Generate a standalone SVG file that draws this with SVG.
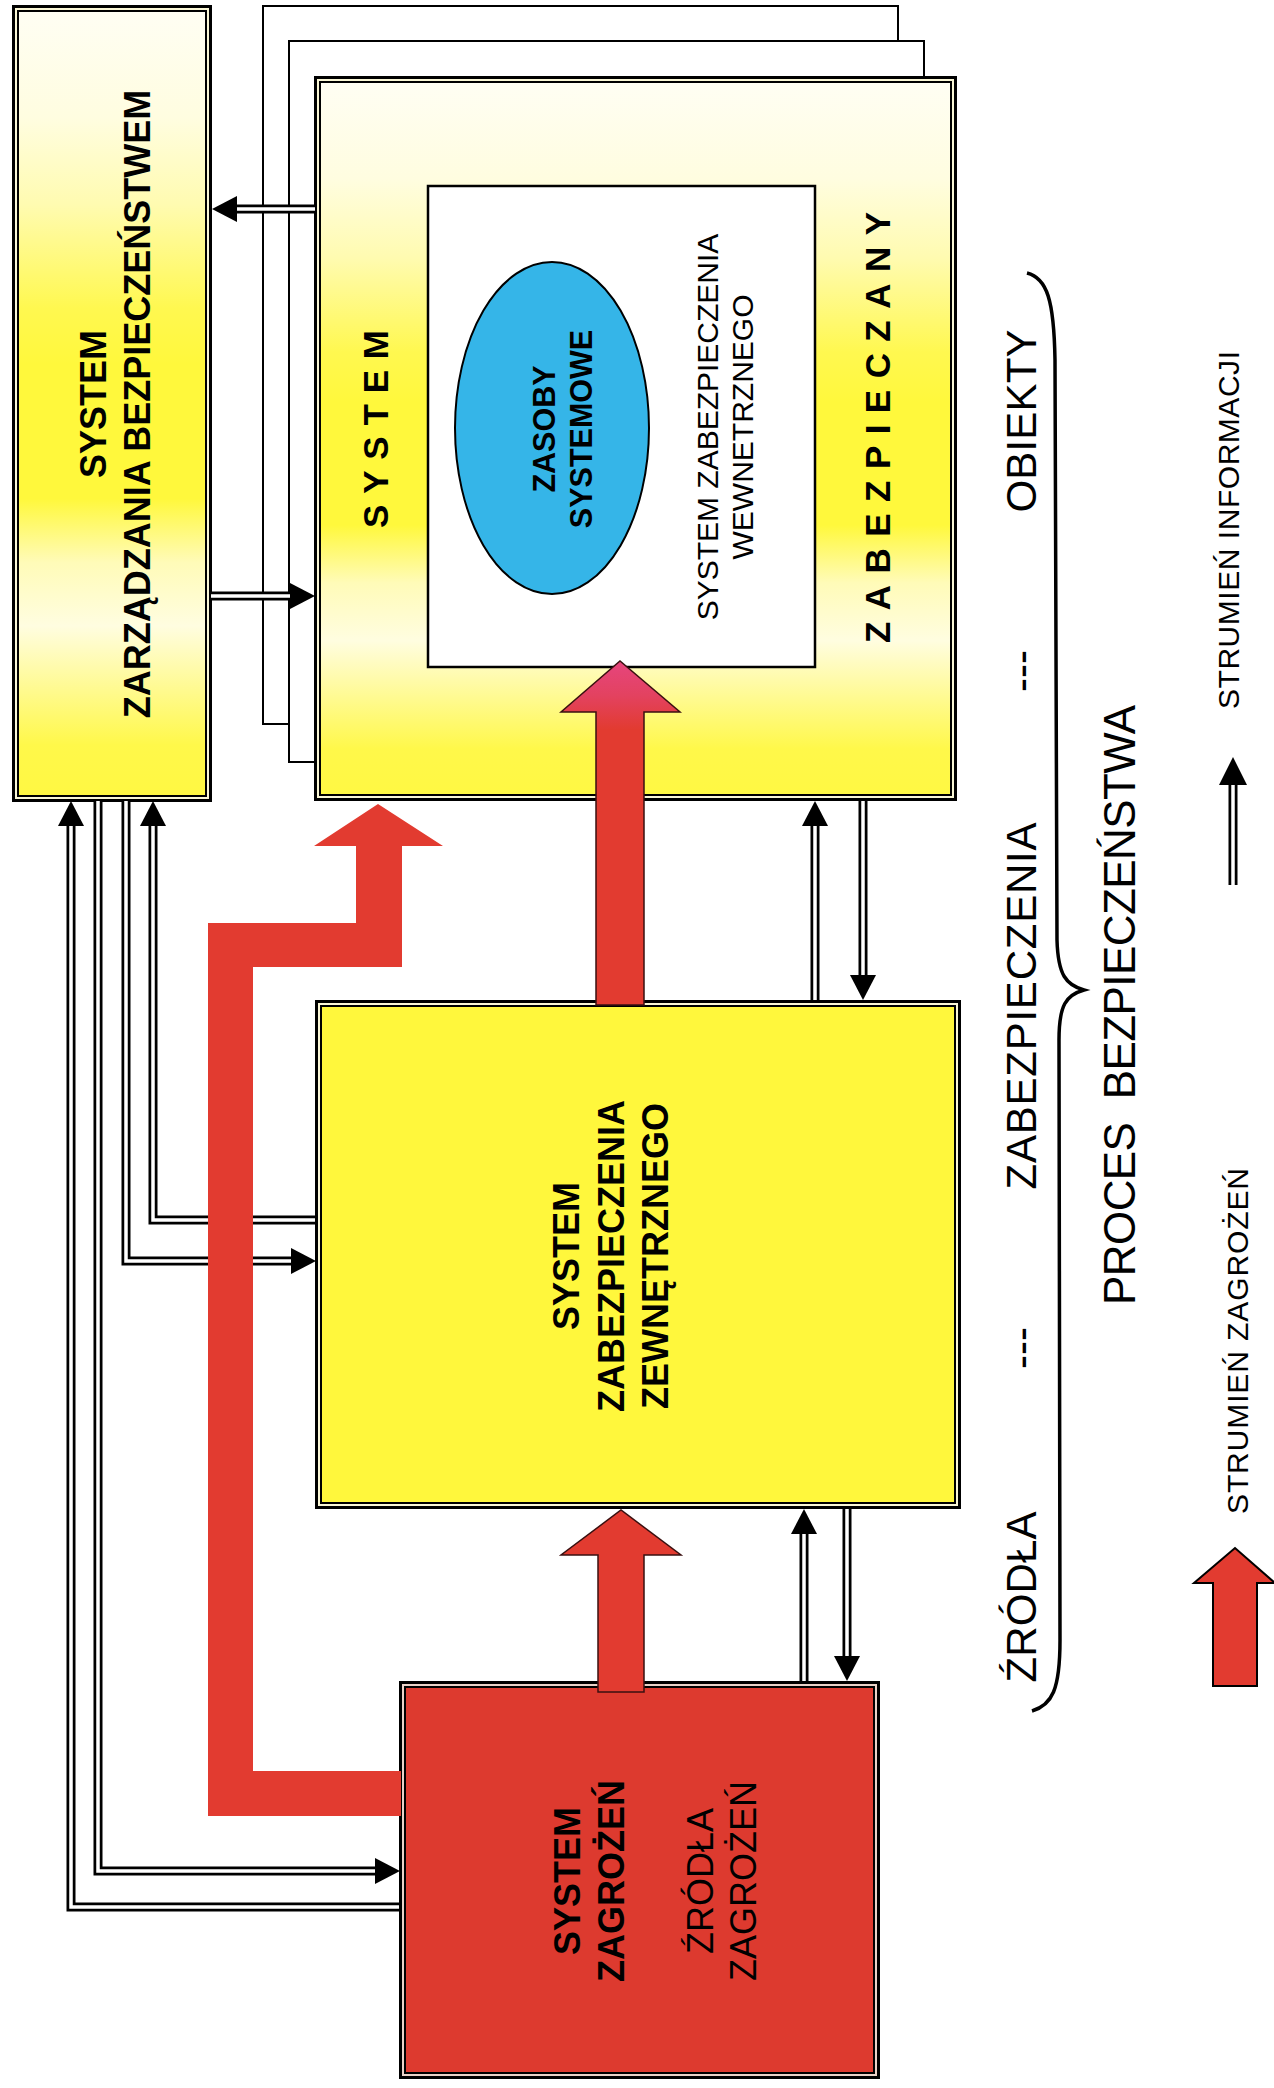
<svg xmlns="http://www.w3.org/2000/svg" width="1274" height="2088" viewBox="0 0 1274 2088">
<defs>
<style>
text{font-family:"Liberation Sans",Arial,Helvetica,sans-serif;fill:#000;text-anchor:middle}
.b{font-weight:bold}
.back{fill:#fff;stroke:#000;stroke-width:2}
.o{stroke:#000;stroke-width:3}
.m{fill:none;stroke:#faf7d6;stroke-width:2}
.mr{fill:none;stroke:#ead2c8;stroke-width:2}
.i{fill:none;stroke:#000;stroke-width:2}
.dlo{fill:none;stroke:#000;stroke-width:9;stroke-linejoin:miter}
.dli{fill:none;stroke:#fff;stroke-width:3.5;stroke-linejoin:miter}
.ah{fill:#000}
.red{fill:#e23b30;stroke:#3a1010;stroke-width:1.5;stroke-linejoin:miter}
.lab{font-size:42px}
</style>
<linearGradient id="gy" x1="0" y1="0" x2="0" y2="1">
<stop offset="0" stop-color="#fffef4"/>
<stop offset="0.14" stop-color="#fffde0"/>
<stop offset="0.25" stop-color="#fffbb0"/>
<stop offset="0.38" stop-color="#fff850"/>
<stop offset="0.45" stop-color="#fff83c"/>
<stop offset="0.62" stop-color="#fff83c"/>
<stop offset="0.7" stop-color="#fffbb8"/>
<stop offset="0.78" stop-color="#fffde0"/>
<stop offset="0.86" stop-color="#fffa90"/>
<stop offset="0.93" stop-color="#fff84a"/>
<stop offset="1" stop-color="#fff842"/>
</linearGradient>
<linearGradient id="gtip" x1="0" y1="0" x2="0" y2="1">
<stop offset="0" stop-color="#e6457e"/>
<stop offset="0.1" stop-color="#e34260"/>
<stop offset="0.2" stop-color="#e23b30"/>
<stop offset="1" stop-color="#e23b30"/>
</linearGradient>
</defs>
<rect width="1274" height="2088" fill="#fff"/>

<g id="node-management">
<rect x="13.5" y="6.5" width="197" height="794" fill="url(#gy)" class="o"/>
<rect x="16" y="9" width="192" height="789" class="m"/>
<rect x="18" y="11" width="188" height="785" class="i"/>
<g transform="translate(0,404) rotate(-90)" class="b" font-size="36">
<text y="106">SYSTEM</text>
<text y="150">ZARZĄDZANIA BEZPIECZEŃSTWEM</text>
</g>
</g>

<g id="node-system">
<rect class="back" x="263" y="6" width="635" height="718"/>
<rect class="back" x="289" y="41" width="635" height="721"/>
<rect x="315.5" y="77.5" width="640" height="722" fill="url(#gy)" class="o"/>
<rect x="318" y="80" width="635" height="717" class="m"/>
<rect x="320" y="82" width="631" height="713" class="i"/>
<g transform="translate(0,429) rotate(-90)" class="b" font-size="35">
<text y="388" textLength="198">SYSTEM</text>
</g>
<g transform="translate(0,427.5) rotate(-90)" class="b" font-size="35">
<text y="890" textLength="431">ZABEZPIECZANY</text>
</g>
</g>

<g id="node-internal">
<rect x="428" y="186" width="387" height="481" fill="#fff" stroke="#000" stroke-width="2.5"/>
<g transform="translate(0,427) rotate(-90)" font-size="30">
<text y="718">SYSTEM ZABEZPIECZENIA</text>
<text y="753">WEWNETRZNEGO</text>
</g>
</g>

<g id="node-resources">
<ellipse cx="552" cy="428" rx="97" ry="166" fill="#35b5e8" stroke="#000" stroke-width="2"/>
<g transform="translate(0,429) rotate(-90)" class="b" font-size="30.5">
<text y="555">ZASOBY</text>
<text y="592">SYSTEMOWE</text>
</g>
</g>

<g id="node-external">
<rect x="316.5" y="1001.5" width="643" height="506" fill="#fff73c" class="o"/>
<rect x="319" y="1004" width="638" height="501" class="m"/>
<rect x="321" y="1006" width="634" height="497" class="i"/>
<g transform="translate(0,1256) rotate(-90)" class="b" font-size="36">
<text y="579">SYSTEM</text>
<text y="624">ZABEZPIECZENIA</text>
<text y="668">ZEWNĘTRZNEGO</text>
</g>
</g>

<g id="node-threats">
<rect x="400.5" y="1682.5" width="478" height="395" fill="#dd3a2f" class="o"/>
<rect x="403" y="1685" width="473" height="390" class="mr"/>
<rect x="405" y="1687" width="469" height="386" class="i"/>
<g transform="translate(0,1881) rotate(-90)" font-size="36">
<text y="580" class="b">SYSTEM</text>
<text y="624" class="b">ZAGROŻEŃ</text>
<text y="713">ŹRÓDŁA</text>
<text y="756">ZAGROŻEŃ</text>
</g>
</g>

<g id="connectors">
<g id="info-lines">
<path class="dlo" d="M315 209 H236"/>
<path class="dlo" d="M211 596 H291"/>
<path class="dlo" d="M399 1907 H71 V825"/>
<path class="dlo" d="M98 801 V1871 H376"/>
<path class="dlo" d="M126 801 V1261 H292"/>
<path class="dlo" d="M315 1220 H153 V825"/>
<path class="dlo" d="M815 1000 V825"/>
<path class="dlo" d="M863 801 V976"/>
<path class="dlo" d="M804 1681 V1533"/>
<path class="dlo" d="M847 1509 V1657"/>
<path class="dli" d="M315 209 H236"/>
<path class="dli" d="M211 596 H291"/>
<path class="dli" d="M399 1907 H71 V825"/>
<path class="dli" d="M98 801 V1871 H376"/>
<path class="dli" d="M126 801 V1261 H292"/>
<path class="dli" d="M315 1220 H153 V825"/>
<path class="dli" d="M815 1000 V825"/>
<path class="dli" d="M863 801 V976"/>
<path class="dli" d="M804 1681 V1533"/>
<path class="dli" d="M847 1509 V1657"/>
<polygon class="ah" points="237,196 237,222 212,209"/>
<polygon class="ah" points="290,583 290,609 315,596"/>
<polygon class="ah" points="58,826 84,826 71,801"/>
<polygon class="ah" points="375,1858 375,1884 400,1871"/>
<polygon class="ah" points="291,1248 291,1274 316,1261"/>
<polygon class="ah" points="140,826 166,826 153,801"/>
<polygon class="ah" points="802,826 828,826 815,801"/>
<polygon class="ah" points="850,975 876,975 863,1000"/>
<polygon class="ah" points="791,1534 817,1534 804,1509"/>
<polygon class="ah" points="834,1656 860,1656 847,1681"/>
</g>
<g id="threat-flows">
<polygon class="red" points="598,1692 598,1555 561,1555 621,1510 681,1555 644,1555 644,1692"/>
<polygon class="red" style="fill:url(#gtip)" points="596,1005 596,712 561,712 620,661 680,712 644,712 644,1005"/>
<polygon fill="#e23b30" points="401,1771 253,1771 253,967 402,967 402,846 443,846 378,804 314,846 356,846 356,923 208,923 208,1816 401,1816"/>
</g>
</g>

<g id="process-labels">
<g transform="translate(1036,1597) rotate(-90)" class="lab"><text y="0" textLength="171">ŹRÓDŁA</text></g>
<g transform="translate(1036,1348) rotate(-90)" class="lab"><text y="0">---</text></g>
<g transform="translate(1036,1006) rotate(-90)" class="lab"><text y="0" textLength="367">ZABEZPIECZENIA</text></g>
<g transform="translate(1036,671) rotate(-90)" class="lab"><text y="0">---</text></g>
<g transform="translate(1036,421) rotate(-90)" class="lab"><text y="0" textLength="183">OBIEKTY</text></g>
<path d="M1027 273 C1047 278 1054 300 1055 360 L1057 940 C1058 975 1066 985 1084 990 C1066 995 1059 1005 1059 1040 L1060 1640 C1060 1690 1052 1705 1032 1711" fill="none" stroke="#000" stroke-width="3.5"/>
<g transform="translate(1135,1005) rotate(-90)"><text y="0" font-size="44" textLength="600" xml:space="preserve">PROCES  BEZPIECZEŃSTWA</text></g>
</g>

<g id="legend">
<path class="dlo" d="M1233 885 V784"/>
<path class="dli" d="M1233 885 V784"/>
<polygon class="ah" points="1219,785 1247,785 1233,757"/>
<g transform="translate(1239,530) rotate(-90)"><text y="0" font-size="30" textLength="358">STRUMIEŃ INFORMACJI</text></g>
<polygon fill="#e23b30" stroke="#000" stroke-width="2" points="1213,1686 1213,1583 1194,1583 1235,1548 1275,1583 1257,1583 1257,1686"/>
<g transform="translate(1248,1341) rotate(-90)"><text y="0" font-size="30" textLength="346">STRUMIEŃ ZAGROŻEŃ</text></g>
</g>
</svg>
